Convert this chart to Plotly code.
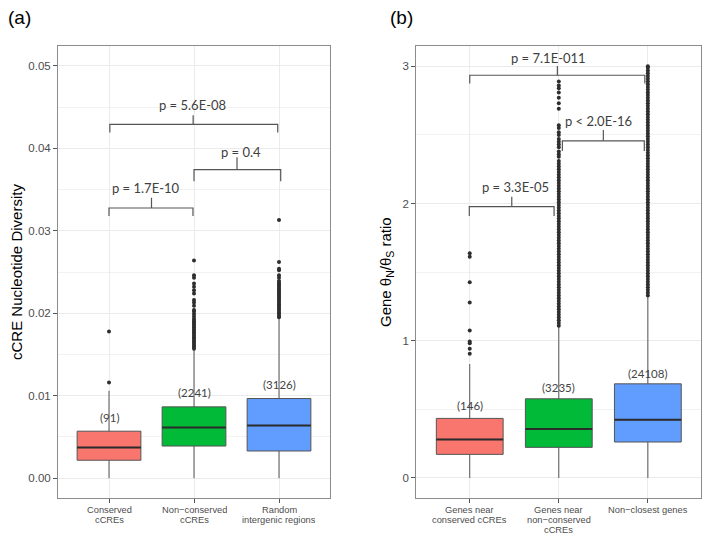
import plotly.graph_objects as go

# ---------------- data ----------------
cats_a = ["Conserved\ncCREs", "Non\u2212conserved\ncCREs", "Random\nintergenic regions"]
cats_b = ["Genes near\nconserved cCREs", "Genes near\nnon\u2212conserved\ncCREs", "Non\u2212closest genes"]
positions = [1, 2, 3]
colors = ["#F8766D", "#00BA38", "#619CFF"]

a_q1 = [0.00218, 0.0039, 0.0033]
a_med = [0.00372, 0.00614, 0.00639]
a_q3 = [0.0057, 0.00865, 0.00966]
a_lo = [0.0, 0.0, 0.0]
a_hi = [0.0106, 0.0157, 0.0193]
a_counts = ["(91)", "(2241)", "(3126)"]
a_count_y = [0.0074, 0.0104, 0.01136]
a_out = [
    [0.0116, 0.0178],
    [0.0157, 0.0159, 0.0161, 0.0163, 0.0165, 0.0167, 0.0169, 0.0171, 0.0173, 0.0175,
     0.0177, 0.0179, 0.0181, 0.0183, 0.0185, 0.0187, 0.0189, 0.0191, 0.0193, 0.0196,
     0.0199, 0.0202, 0.0204, 0.0209, 0.0213, 0.0216, 0.0224, 0.0228, 0.0232, 0.0236,
     0.0243, 0.0246, 0.0264],
    [0.0195, 0.0197, 0.0199, 0.0201, 0.0203, 0.0205, 0.0207, 0.0209, 0.0211, 0.0213,
     0.0215, 0.0217, 0.0219, 0.0221, 0.0223, 0.0225, 0.0227, 0.0229, 0.0231, 0.0233,
     0.0235, 0.0237, 0.0239, 0.0243, 0.0246, 0.0252, 0.0254, 0.0262, 0.0313],
]

b_q1 = [0.172, 0.223, 0.262]
b_med = [0.281, 0.357, 0.424]
b_q3 = [0.434, 0.577, 0.686]
b_lo = [0.0, 0.0, 0.0]
b_hi = [0.83, 1.10, 1.32]
b_counts = ["(146)", "(3235)", "(24108)"]
b_count_y = [0.528, 0.659, 0.759]
b_out = [
    [0.905, 0.941, 0.982, 0.994, 1.074, 1.278, 1.426, 1.613, 1.638],
    [1.11, 1.13, 1.15, 1.17, 1.19, 1.21, 1.23, 1.25, 1.27, 1.29, 1.31, 1.33, 1.35,
     1.37, 1.39, 1.41, 1.43, 1.45, 1.47, 1.49, 1.51, 1.53, 1.55, 1.57, 1.59, 1.61,
     1.63, 1.65, 1.67, 1.69, 1.71, 1.73, 1.75, 1.77, 1.79, 1.81, 1.83, 1.85, 1.87,
     1.89, 1.91, 1.93, 1.95, 1.97, 1.99, 2.01, 2.03, 2.05, 2.07, 2.09, 2.11, 2.13,
     2.15, 2.17, 2.19, 2.21, 2.23, 2.25, 2.27, 2.29, 2.31, 2.34, 2.36, 2.38, 2.41,
     2.43, 2.45, 2.47, 2.50, 2.52, 2.55, 2.57, 2.69, 2.73, 2.77, 2.81, 2.84, 2.86, 2.89],
    [1.33, 1.35, 1.37, 1.39, 1.41, 1.43, 1.45, 1.47, 1.49, 1.51, 1.53, 1.55, 1.57,
     1.59, 1.61, 1.63, 1.65, 1.67, 1.69, 1.71, 1.73, 1.75, 1.77, 1.79, 1.81, 1.83,
     1.85, 1.87, 1.89, 1.91, 1.93, 1.95, 1.97, 1.99, 2.01, 2.03, 2.05, 2.07, 2.09,
     2.11, 2.13, 2.15, 2.17, 2.19, 2.21, 2.23, 2.25, 2.27, 2.29, 2.31, 2.33, 2.35,
     2.37, 2.39, 2.41, 2.43, 2.45, 2.47, 2.49, 2.51, 2.53, 2.55, 2.57, 2.59, 2.61,
     2.63, 2.65, 2.67, 2.69, 2.71, 2.73, 2.75, 2.77, 2.79, 2.81, 2.83, 2.85, 2.87,
     2.89, 2.91, 2.93, 2.95, 2.97, 2.99, 3.00],
]

# significance brackets: left x, right x, bar y, leg end y, mid x, mid tick top, label x, label y, text
a_brackets = [
    (1.0, 1.988, 0.03276, 0.0318, 1.5, 0.034, 1.435, 0.0352, "p = 1.7E-10"),
    (2.0, 3.02, 0.0374, 0.036, 2.506, 0.0389, 2.553, 0.03955, "p = 0.4"),
    (1.01, 2.985, 0.0429, 0.0419, 1.99, 0.044, 1.98, 0.04521, "p = 5.6E-08"),
]
b_brackets = [
    (0.995, 1.947, 1.977, 1.909, 1.472, 2.05, 1.515, 2.122, "p = 3.3E-05"),
    (2.04, 2.96, 2.457, 2.382, 2.50, 2.535, 2.45, 2.603, "p < 2.0E-16"),
    (1.0, 2.966, 2.935, 2.874, 1.984, 3.003, 1.885, 3.057, "p = 7.1E-011"),
]

BOX_W = 0.75
W, H = 709, 537

fig = go.Figure()


def add_panel(xa, ya, cats, q1, med, q3, lo, hi, outs, counts, count_y, brackets):
    for i, p in enumerate(positions):
        fig.add_trace(go.Box(
            x=[p], q1=[q1[i]], median=[med[i]], q3=[q3[i]],
            lowerfence=[lo[i]], upperfence=[hi[i]],
            width=BOX_W, fillcolor=colors[i], whiskerwidth=0,
            line=dict(color="#555555", width=1), boxpoints=False,
            xaxis=xa, yaxis=ya, showlegend=False, hoverinfo="skip"))
        fig.add_trace(go.Scatter(
            x=[p - BOX_W / 2, p + BOX_W / 2], y=[med[i], med[i]], mode="lines",
            line=dict(color="#2b2b2b", width=2), xaxis=xa, yaxis=ya,
            showlegend=False, hoverinfo="skip"))
        fig.add_trace(go.Scatter(
            x=[p] * len(outs[i]), y=outs[i], mode="markers",
            marker=dict(color="#2e2e2e", size=4), xaxis=xa, yaxis=ya,
            showlegend=False, hoverinfo="skip"))
        fig.add_annotation(x=p, y=count_y[i], xref=xa, yref=ya, text=counts[i],
                           showarrow=False, xanchor="center", yanchor="middle",
                           font=dict(family="Lato", size=11.5, color="#444444"))
        # category labels, one text per line (tight ggplot-like line spacing)
        for k, line in enumerate(cats[i].split("\n")):
            fig.add_annotation(x=p, y=1 - (509.5 + 10.2 * k) / H, xref=xa, yref="paper",
                               text=line, showarrow=False, xanchor="center", yanchor="middle",
                               height=10, borderpad=0,
                               font=dict(family="Liberation Sans", size=9.3, color="#4D4D4D"))
    for (x1, x2, yt, ye, xm, ytk, lx, ly, txt) in brackets:
        fig.add_trace(go.Scatter(
            x=[x1, x1, x2, x2, None, xm, xm], y=[ye, yt, yt, ye, None, yt, ytk],
            mode="lines", line=dict(color="#555555", width=1.2), xaxis=xa, yaxis=ya,
            showlegend=False, hoverinfo="skip"))
        fig.add_annotation(x=lx, y=ly, xref=xa, yref=ya, text=txt, showarrow=False,
                           xanchor="center", yanchor="middle",
                           font=dict(family="Lato", size=13, color="#404040"))


add_panel("x", "y", cats_a, a_q1, a_med, a_q3, a_lo, a_hi, a_out, a_counts, a_count_y, a_brackets)
add_panel("x2", "y2", cats_b, b_q1, b_med, b_q3, b_lo, b_hi, b_out, b_counts, b_count_y, b_brackets)

axis_common = dict(showline=True, mirror=True, linecolor="#8c8c8c", linewidth=1,
                   gridcolor="#EBEBEB", gridwidth=1, zeroline=False,
                   ticks="outside", ticklen=4, tickcolor="#555555", tickwidth=1)

xa_dom = [58 / W, 330 / W]
xb_dom = [416.3 / W, 701.3 / W]
y_dom = [1 - 498 / H, 1 - 46 / H]

fig.update_layout(
    width=W, height=H, margin=dict(l=0, r=0, t=0, b=0),
    paper_bgcolor="white", plot_bgcolor="white", showlegend=False,
    font=dict(family="Liberation Sans"),
    xaxis=dict(domain=xa_dom, range=[0.4, 3.6], tickvals=positions, showticklabels=False,
               anchor="y", **axis_common),
    yaxis=dict(domain=y_dom, range=[-0.0024, 0.0524], tickvals=[0, 0.01, 0.02, 0.03, 0.04, 0.05],
               ticktext=["0.00", "0.01", "0.02", "0.03", "0.04", "0.05"],
               tickfont=dict(size=11.5, color="#4D4D4D"), anchor="x",
               minor=dict(tickvals=[0.005, 0.015, 0.025, 0.035, 0.045], showgrid=True,
                          gridcolor="#F2F2F2", gridwidth=0.7, ticks=""),
               **axis_common),
    xaxis2=dict(domain=xb_dom, range=[0.4, 3.6], tickvals=positions, showticklabels=False,
                anchor="y2", **axis_common),
    yaxis2=dict(domain=y_dom, range=[-0.146, 3.148], tickvals=[0, 1, 2, 3],
                tickfont=dict(size=11.5, color="#4D4D4D"), anchor="x2",
                minor=dict(tickvals=[0.5, 1.5, 2.5], showgrid=True,
                           gridcolor="#F2F2F2", gridwidth=0.7, ticks=""),
                **axis_common),
)

# axis titles and panel tags
fig.add_annotation(x=16 / W, y=1 - 272 / H, xref="paper", yref="paper",
                   text="cCRE Nucleotide Diversity", textangle=-90, showarrow=False,
                   xanchor="center", yanchor="middle",
                   font=dict(family="Liberation Sans", size=15, color="black"))
fig.add_annotation(x=386 / W, y=1 - 272 / H, xref="paper", yref="paper",
                   text="Gene \u03b8<sub>N</sub>/\u03b8<sub>S</sub> ratio", textangle=-90, showarrow=False,
                   xanchor="center", yanchor="middle",
                   font=dict(family="Liberation Sans", size=15, color="black"))
fig.add_annotation(x=19.5 / W, y=1 - 17 / H, xref="paper", yref="paper", text="(a)",
                   showarrow=False, xanchor="center", yanchor="middle",
                   font=dict(family="Liberation Sans", size=19, color="black"))
fig.add_annotation(x=401.5 / W, y=1 - 17 / H, xref="paper", yref="paper", text="(b)",
                   showarrow=False, xanchor="center", yanchor="middle",
                   font=dict(family="Liberation Sans", size=19, color="black"))

fig.write_html("out.html", config={"displayModeBar": False},
               post_script="document.body.style.margin='0';document.body.style.overflow='hidden';")
